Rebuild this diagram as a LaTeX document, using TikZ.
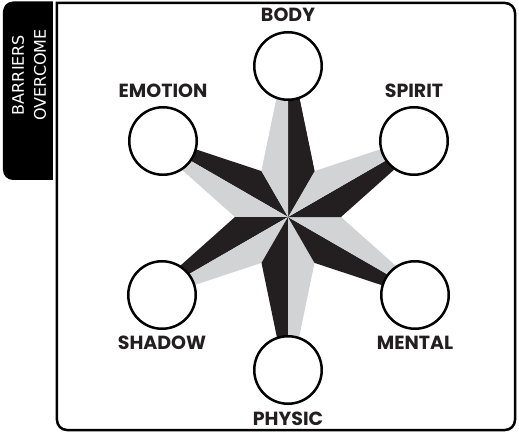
\documentclass[tikz,border=0pt]{standalone}
\usepackage{fontspec}
\usepackage{xcolor}
\usetikzlibrary{positioning}
\newfontfamily\ringfont{Poppins}
\newfontfamily\tabfont{DejaVu Sans}
\definecolor{stardark}{HTML}{231F20}
\definecolor{starlight}{HTML}{D1D3D4}
\tikzset{
  ring/.style={circle, draw=black, line width=2.5pt, fill=white, minimum size=67.5pt, inner sep=0pt},
  ringlabel/.style={font=\ringfont\bfseries\fontsize{19}{21}\selectfont, text=stardark, inner sep=0pt},
  tablabel/.style={font=\tabfont\fontsize{16}{22}\selectfont, text=white, align=center, rotate=90, inner sep=0pt},
  frameline/.style={line width=2.5pt, draw=black}
}

\begin{document}
\begin{tikzpicture}[x=1pt, y=1pt]
\useasboundingbox (-288,-222) rectangle (231,217);
\fill[black] (-235,215.5) -- (-275,215.5) arc[start angle=90, end angle=180, radius=10]
  -- (-285,47) arc[start angle=180, end angle=270, radius=10] -- (-235,37) -- cycle;
\node[tablabel] (tabtext) at (-259,142) {BARRIERS\\OVERCOME};
\draw[frameline] (-231,214) -- (217,214) arc[start angle=90, end angle=0, radius=10]
  -- (227,-203) arc[start angle=0, end angle=-90, radius=10]
  -- (-221,-213) arc[start angle=270, end angle=180, radius=10] -- cycle;
\foreach \a in {90,150,...,450} {
  \fill[stardark] (0,0) -- (\a:174) -- ({\a-30}:53) -- cycle;
  \fill[starlight] (0,0) -- (\a:174) -- ({\a+30}:53) -- cycle;
}
\node[ring] (body) at (0,151) {};
\node[ring] (spirit) at (126,76) {};
\node[ring] (mental) at (127,-78) {};
\node[ring] (physic) at (0,-153) {};
\node[ring] (shadow) at (-126,-78) {};
\node[ring] (emotion) at (-125,76) {};
\node[ringlabel, above=9pt of body] (bodylbl) {BODY};
\node[ringlabel, above=8pt of spirit] (spiritlbl) {SPIRIT};
\node[ringlabel, above=8pt of emotion] (emotionlbl) {EMOTION};
\node[ringlabel, below=6pt of shadow] (shadowlbl) {SHADOW};
\node[ringlabel, below=6pt of mental] (mentallbl) {MENTAL};
\node[ringlabel, below=7pt of physic] (physiclbl) {PHYSIC};
\end{tikzpicture}
\end{document}
